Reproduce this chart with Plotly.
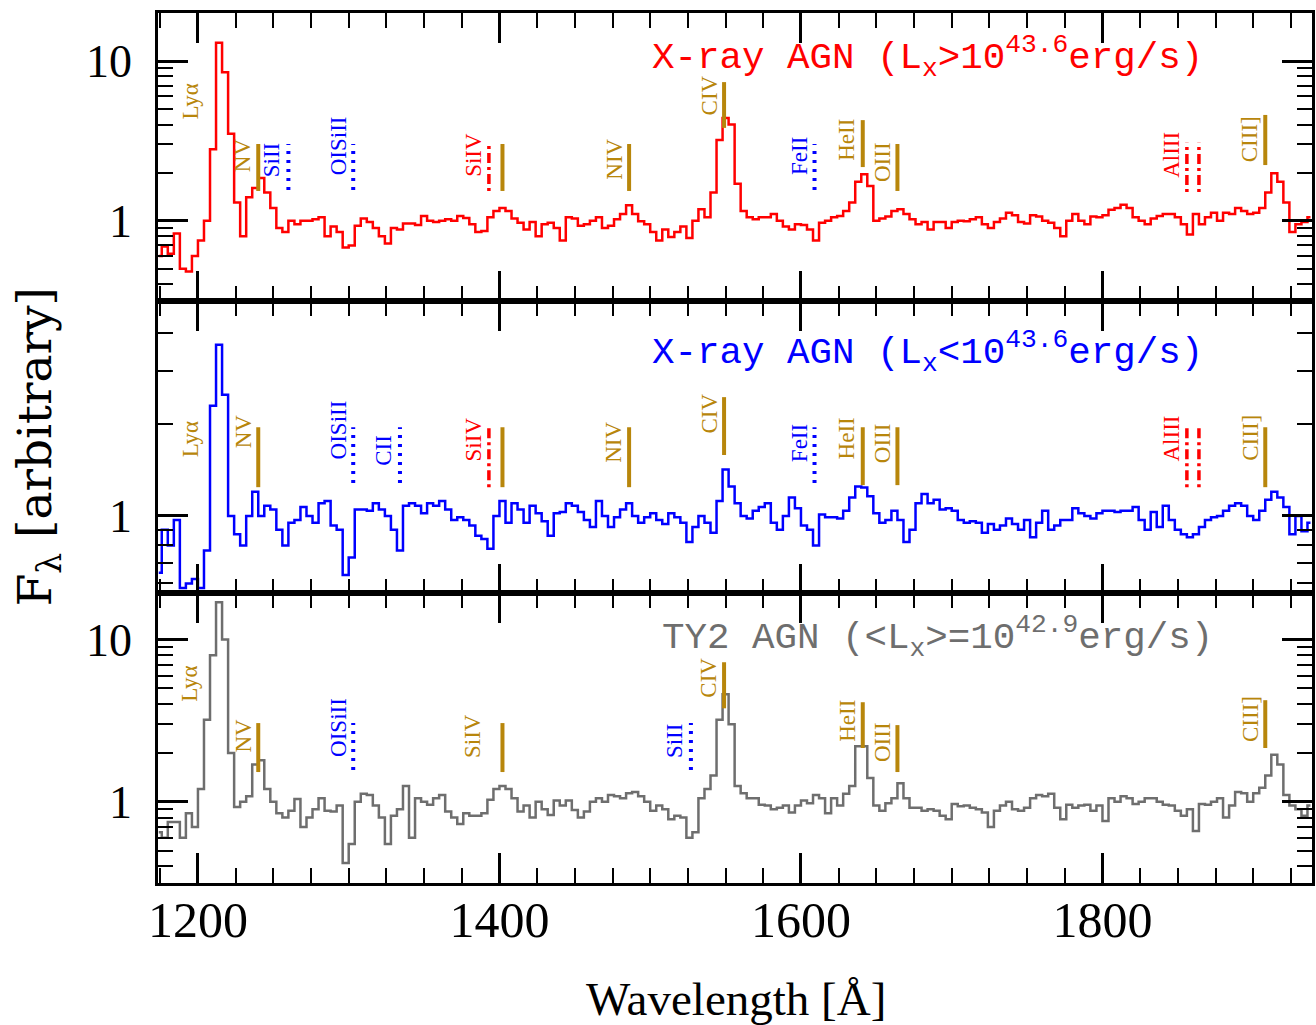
import plotly.graph_objects as go

# ---------------- data ----------------
# wavelength grids (Angstrom), 4 A bins, three segments
wave_a = list(range(1174, 1434, 4))   # 1174 .. 1430
wave_b = list(range(1434, 1690, 4))   # 1434 .. 1686
wave_c = list(range(1690, 1942, 4))   # 1690 .. 1938

# X-ray AGN, Lx > 10^43.6 (red)
flux_hi_a = [0.60, 0.69, 0.62, 0.83, 0.50, 0.48, 0.60, 0.75, 1.00, 2.8,
             13.0, 8.5, 3.5, 1.3, 0.80, 1.40, 1.60, 1.85, 1.50, 1.20,
             0.90, 0.85, 1.00, 0.95, 1.00, 1.00, 1.02, 1.05, 0.80, 0.92,
             0.85, 0.68, 0.70, 0.93, 1.03, 0.98, 0.90, 0.80, 0.72, 0.90,
             0.88, 0.96, 0.96, 0.94, 1.07, 1.00, 0.98, 1.00, 1.02, 1.00,
             1.07, 1.04, 0.95, 0.85, 0.86, 1.05, 1.15, 1.20, 1.15, 1.03,
             0.97, 0.88, 0.98, 0.80, 0.95]
flux_hi_b = [0.97, 0.90, 0.75, 1.05, 1.03, 0.93, 0.95, 1.00, 1.05, 0.90,
             0.93, 1.02, 1.10, 1.25, 1.10, 0.99, 0.95, 0.85, 0.75, 0.88,
             0.79, 0.85, 0.92, 0.78, 1.00, 1.18, 1.05, 1.50, 3.20, 4.40,
             4.00, 1.70, 1.15, 1.05, 1.02, 1.05, 1.05, 1.10, 1.00, 0.92,
             0.88, 0.95, 0.94, 0.88, 0.75, 0.97, 1.00, 1.05, 1.07, 1.15,
             1.30, 1.75, 1.95, 1.65, 1.00, 1.03, 1.06, 1.15, 1.18, 1.10,
             1.02, 0.95, 0.98, 0.88]
flux_hi_c = [0.98, 0.98, 0.90, 0.98, 1.00, 0.99, 1.02, 1.05, 0.95, 0.90,
             0.98, 1.03, 1.12, 1.08, 0.98, 0.96, 1.08, 1.06, 1.00, 0.97,
             0.90, 0.80, 1.00, 1.10, 1.00, 0.95, 1.06, 1.05, 1.08, 1.17,
             1.20, 1.26, 1.20, 1.05, 1.00, 0.95, 1.03, 1.07, 1.10, 1.10,
             1.05, 0.95, 0.82, 1.10, 0.95, 1.05, 1.12, 1.00, 1.12, 1.10,
             1.20, 1.15, 1.10, 1.12, 1.20, 1.50, 1.98, 1.75, 1.30, 0.85,
             0.95, 0.98, 1.05]

# X-ray AGN, Lx < 10^43.6 (blue)
flux_lo_a = [0.65, 0.90, 0.80, 0.97, 0.58, 0.60, 0.62, 0.58, 0.77, 2.30,
             3.65, 2.50, 1.00, 0.87, 0.80, 1.00, 1.20, 1.00, 1.08, 1.05,
             0.90, 0.80, 0.95, 0.97, 1.07, 1.00, 0.95, 1.10, 1.12, 0.93,
             0.90, 0.64, 0.73, 1.05, 1.05, 1.04, 1.10, 1.05, 1.00, 0.90,
             0.77, 1.08, 1.10, 1.08, 1.02, 1.10, 1.08, 1.12, 1.05, 0.97,
             0.99, 0.97, 0.93, 0.86, 0.84, 0.78, 1.00, 1.12, 0.95, 1.10,
             1.05, 0.95, 1.08, 1.02, 0.96]
flux_lo_b = [0.86, 1.02, 1.03, 1.10, 1.08, 1.03, 0.97, 0.92, 1.12, 1.00,
             0.92, 0.99, 1.05, 1.10, 1.00, 0.95, 0.99, 1.02, 0.97, 0.94,
             1.02, 0.99, 0.95, 0.82, 0.92, 1.00, 0.95, 0.88, 1.12, 1.42,
             1.25, 1.10, 1.00, 0.98, 1.04, 1.07, 1.10, 0.95, 0.90, 1.00,
             1.15, 1.06, 0.93, 0.90, 0.80, 1.01, 0.99, 0.99, 0.98, 1.04,
             1.15, 1.25, 1.24, 1.16, 1.02, 0.95, 0.97, 1.04, 0.97, 0.82,
             0.90, 1.10, 1.18, 1.10]
flux_lo_c = [1.13, 1.05, 1.06, 1.04, 0.97, 0.95, 0.96, 0.95, 0.88, 0.94,
             0.90, 0.93, 0.98, 0.94, 0.90, 0.97, 0.85, 0.95, 1.04, 0.90,
             0.93, 0.97, 0.97, 1.06, 1.02, 1.00, 0.98, 1.02, 1.04, 1.04,
             1.03, 1.04, 1.04, 1.07, 0.97, 0.90, 1.03, 0.92, 1.08, 0.97,
             0.90, 0.87, 0.85, 0.87, 0.92, 0.97, 0.99, 1.00, 1.04, 1.08,
             1.10, 1.08, 1.00, 0.97, 1.04, 1.13, 1.20, 1.15, 1.07, 0.87,
             1.00, 0.89, 0.95]

# Type-2 AGN (grey)
flux_ty2_a = [0.65, 0.60, 0.75, 0.75, 0.60, 0.85, 0.70, 1.20, 3.20, 8.00,
              17.0, 10.0, 2.00, 0.93, 1.00, 1.08, 1.70, 1.80, 1.20, 1.00,
              0.85, 0.80, 0.88, 1.04, 0.70, 0.80, 0.90, 1.05, 0.88, 0.87,
              0.95, 0.42, 0.55, 1.00, 1.12, 1.10, 0.95, 0.80, 0.55, 0.82,
              0.90, 1.25, 0.60, 1.05, 1.00, 0.96, 1.05, 1.10, 0.87, 0.80,
              0.73, 0.85, 0.82, 0.82, 0.85, 1.03, 1.20, 1.25, 1.20, 1.05,
              0.87, 0.95, 0.80, 1.00, 0.90]
flux_ty2_b = [0.83, 1.02, 0.95, 1.02, 0.89, 0.80, 0.87, 1.00, 1.05, 1.00,
              1.10, 1.08, 1.05, 1.13, 1.15, 1.08, 1.00, 0.88, 0.95, 0.90,
              0.78, 0.82, 0.80, 0.60, 0.65, 1.05, 1.20, 1.45, 3.20, 4.60,
              3.00, 1.25, 1.13, 1.05, 1.05, 0.96, 0.95, 0.90, 0.92, 0.95,
              0.86, 0.95, 1.02, 0.98, 1.10, 1.05, 0.85, 1.05, 0.95, 1.12,
              1.25, 2.20, 2.20, 1.40, 0.95, 0.88, 0.98, 1.05, 1.30, 1.05,
              0.92, 0.92, 0.88, 0.90]
flux_ty2_c = [0.88, 0.82, 0.78, 0.97, 0.94, 0.95, 0.92, 0.90, 0.86, 0.70,
              0.88, 0.95, 1.00, 0.90, 0.88, 0.92, 1.05, 1.10, 1.08, 1.12,
              0.92, 0.78, 0.96, 0.92, 0.95, 0.96, 0.88, 0.95, 0.76, 1.05,
              1.00, 1.08, 1.05, 0.97, 1.00, 1.05, 1.05, 1.00, 0.96, 0.95,
              0.88, 0.82, 0.90, 0.66, 0.97, 0.96, 1.00, 1.05, 0.80, 0.95,
              1.15, 1.13, 1.00, 1.13, 1.22, 1.45, 1.95, 1.70, 1.10, 0.95,
              0.90, 0.82, 0.95]

panel_titles = [
    "X-ray AGN (L<sub>x</sub>&gt;10<sup>43.6</sup>erg/s)",
    "X-ray AGN (L<sub>x</sub>&lt;10<sup>43.6</sup>erg/s)",
    "TY2 AGN (&lt;L<sub>x</sub>&gt;=10<sup>42.9</sup>erg/s)",
]
x_tick_vals = [1200, 1400, 1600, 1800]
x_tick_text = ["1200", "1400", "1600", "1800"]

# emission / absorption line identifications (label, wavelength of marks)
lines_top = [("Ly\u03b1", []), ("NV", [1240]), ("SiII", [1260]), ("OISiII", [1303]),
             ("SiIV", [1393, 1402]), ("NIV", [1486]), ("CIV", [1549]), ("FeII", [1609]),
             ("HeII", [1641]), ("OIII", [1664]), ("AlIII", [1856, 1864]), ("CIII]", [1908])]
lines_mid = [("Ly\u03b1", []), ("NV", [1240]), ("OISiII", [1303]), ("CII", [1334]),
             ("SiIV", [1393, 1402]), ("NIV", [1486]), ("CIV", [1549]), ("FeII", [1609]),
             ("HeII", [1641]), ("OIII", [1664]), ("AlIII", [1856, 1864]), ("CIII]", [1908])]
lines_bot = [("Ly\u03b1", []), ("NV", [1240]), ("OISiII", [1303]), ("SiIV", [1402]),
             ("SiII", [1527]), ("CIV", [1549]), ("HeII", [1641]), ("OIII", [1664]),
             ("CIII]", [1908])]

# ---------------- assembly ----------------
for nm, arrs in [("hi", (flux_hi_a, flux_hi_b, flux_hi_c)),
                 ("lo", (flux_lo_a, flux_lo_b, flux_lo_c)),
                 ("ty2", (flux_ty2_a, flux_ty2_b, flux_ty2_c))]:
    for w, f in zip((wave_a, wave_b, wave_c), arrs):
        assert len(w) == len(f), (nm, len(w), len(f))

wave = wave_a + wave_b + wave_c
flux_hi = flux_hi_a + flux_hi_b + flux_hi_c
flux_lo = flux_lo_a + flux_lo_b + flux_lo_c
flux_ty2 = flux_ty2_a + flux_ty2_b + flux_ty2_c

GOLD = "#B8860B"
BLUE = "#0000FF"
RED = "#FF0000"
GREY = "#6E6E6E"

fig = go.Figure()
fig.add_trace(go.Scatter(x=wave, y=flux_hi, mode="lines", line=dict(color=RED, width=2.5, shape="hvh"),
                         xaxis="x", yaxis="y", hoverinfo="skip"))
fig.add_trace(go.Scatter(x=wave, y=flux_lo, mode="lines", line=dict(color=BLUE, width=2.5, shape="hvh"),
                         xaxis="x2", yaxis="y2", hoverinfo="skip"))
fig.add_trace(go.Scatter(x=wave, y=flux_ty2, mode="lines", line=dict(color=GREY, width=2.5, shape="hvh"),
                         xaxis="x3", yaxis="y3", hoverinfo="skip"))

XR = [1173.5, 1939]
common_x = dict(range=XR, showline=True, linewidth=2.5, linecolor="black", mirror="ticks",
                ticks="inside", ticklen=30, tickwidth=2.5, tickcolor="black",
                tickmode="array", tickvals=x_tick_vals, ticktext=x_tick_text,
                minor=dict(tickmode="linear", dtick=25, tick0=1200, ticks="inside", ticklen=15,
                           tickwidth=2, tickcolor="black"),
                showgrid=False, zeroline=False)
common_y = dict(type="log", showline=True, linewidth=2.5, linecolor="black", mirror="ticks",
                ticks="inside", ticklen=30, tickwidth=2.5, tickcolor="black",
                showgrid=False, zeroline=False, ticklabelstandoff=14,
                tickfont=dict(family="Liberation Serif", size=46, color="black"))
minor_y = [0.3, 0.4, 0.5, 0.6, 0.7, 0.8, 0.9, 2, 3, 4, 5, 6, 7, 8, 9, 20]

fig.update_layout(
    width=1316, height=1025, margin=dict(l=158, r=1, t=13, b=142),
    paper_bgcolor="white", plot_bgcolor="white", showlegend=False,
    xaxis=dict(common_x, anchor="y", showticklabels=False),
    xaxis2=dict(common_x, anchor="y2", matches="x", showticklabels=False),
    xaxis3=dict(common_x, anchor="y3", matches="x", showticklabels=True, ticklabelstandoff=-9,
                tickfont=dict(family="Liberation Serif", size=50, color="black")),
    yaxis=dict(common_y, domain=[0.669, 1.0], range=[-0.503, 1.3006],
               tickvals=[1, 10], ticktext=["1", "10"], anchor="x",
               minor=dict(tickmode="array", tickvals=minor_y, ticks="inside", ticklen=15,
                          tickwidth=2, tickcolor="black")),
    yaxis2=dict(common_y, domain=[0.333, 0.669], range=[-0.2543, 0.706],
                tickvals=[1], ticktext=["1"], anchor="x2",
                minor=dict(tickmode="array", tickvals=minor_y, ticks="inside", ticklen=15,
                           tickwidth=2, tickcolor="black")),
    yaxis3=dict(common_y, domain=[0.0, 0.333], range=[-0.5006, 1.285],
                tickvals=[1, 10], ticktext=["1", "10"], anchor="x3",
                minor=dict(tickmode="array", tickvals=minor_y, ticks="inside", ticklen=15,
                           tickwidth=2, tickcolor="black")),
)

annotations = []
shapes = []

# panel titles
title_colors = [RED, BLUE, GREY]
title_pos = [(0.9075, "y domain", 0.847), (0.9075, "y2 domain", 0.825), (0.916, "y3 domain", 0.848)]
for txt, col, (tx, yr, ty) in zip(panel_titles, title_colors, title_pos):
    annotations.append(dict(text=txt, xref="paper", x=tx, xanchor="right", yref=yr, y=ty,
                            yanchor="middle", showarrow=False,
                            font=dict(family="Liberation Mono", size=37.5, color=col)))

# axis titles
annotations.append(dict(text="F<sub>\u03bb</sub> [arbitrary]", xref="paper", yref="paper",
                        x=(38 - 158) / 1157, y=(883 - 447) / 870, textangle=-90,
                        xanchor="center", yanchor="middle", showarrow=False,
                        font=dict(family="DejaVu Serif", size=47, color="black")))
annotations.append(dict(text="Wavelength [\u00c5]", xref="paper", yref="paper",
                        x=(738 - 158) / 1157, y=(883 - 999) / 870,
                        xanchor="center", yanchor="middle", showarrow=False,
                        font=dict(family="Liberation Serif", size=47, color="black")))

# layout of line marks: label -> (label colour, label y, label xshift, [(mark style, y0, y1)])
STY = {"gold": dict(color=GOLD, width=4, dash="solid"),
       "blue": dict(color=BLUE, width=4, dash="3px,6px"),
       "red": dict(color=RED, width=3.5, dash="3px,4px,10px,4px")}

lay_top = {
    "Ly\u03b1": (GOLD, 0.693, -32, []),
    "NV": (GOLD, 0.507, -15, [("gold", 0.382, 0.545)]),
    "SiII": (BLUE, 0.49, -17, [("blue", 0.385, 0.545)]),
    "OISiII": (BLUE, 0.538, -15, [("blue", 0.385, 0.545)]),
    "SiIV": (RED, 0.507, -15, [("red", 0.382, 0.545), ("gold", 0.382, 0.545)]),
    "NIV": (GOLD, 0.491, -15, [("gold", 0.382, 0.545)]),
    "CIV": (GOLD, 0.714, -15, [("gold", 0.601, 0.760)]),
    "FeII": (BLUE, 0.502, -15, [("blue", 0.385, 0.545)]),
    "HeII": (GOLD, 0.559, -16, [("gold", 0.465, 0.628)]),
    "OIII": (GOLD, 0.484, -15, [("gold", 0.382, 0.545)]),
    "AlIII": (RED, 0.507, -15, [("red", 0.378, 0.549), ("red", 0.378, 0.549)]),
    "CIII]": (GOLD, 0.5625, -15, [("gold", 0.472, 0.646)]),
}
lay_mid = {
    "Ly\u03b1": (GOLD, 0.527, -32, []),
    "NV": (GOLD, 0.555, -15, [("gold", 0.363, 0.568)]),
    "OISiII": (BLUE, 0.558, -15, [("blue", 0.377, 0.568)]),
    "CII": (BLUE, 0.491, -16, [("blue", 0.377, 0.568)]),
    "SiIV": (RED, 0.526, -15, [("red", 0.363, 0.568), ("gold", 0.363, 0.568)]),
    "NIV": (GOLD, 0.515, -15, [("gold", 0.363, 0.568)]),
    "CIV": (GOLD, 0.615, -15, [("gold", 0.473, 0.671)]),
    "FeII": (BLUE, 0.512, -15, [("blue", 0.377, 0.568)]),
    "HeII": (GOLD, 0.529, -16, [("gold", 0.37, 0.568)]),
    "OIII": (GOLD, 0.515, -15, [("gold", 0.37, 0.568)]),
    "AlIII": (RED, 0.529, -15, [("red", 0.363, 0.568), ("red", 0.363, 0.568)]),
    "CIII]": (GOLD, 0.533, -15, [("gold", 0.363, 0.568)]),
}
lay_bot = {
    "Ly\u03b1": (GOLD, 0.688, -32, []),
    "NV": (GOLD, 0.51, -15, [("gold", 0.383, 0.552)]),
    "OISiII": (BLUE, 0.536, -15, [("blue", 0.39, 0.552)]),
    "SiIV": (GOLD, 0.509, -30, [("gold", 0.383, 0.552)]),
    "SiII": (BLUE, 0.493, -17, [("blue", 0.39, 0.552)]),
    "CIV": (GOLD, 0.709, -15, [("gold", 0.603, 0.762)]),
    "HeII": (GOLD, 0.559, -16, [("gold", 0.466, 0.624)]),
    "OIII": (GOLD, 0.488, -15, [("gold", 0.383, 0.545)]),
    "CIII]": (GOLD, 0.567, -15, [("gold", 0.466, 0.631)]),
}

for lines, lay, xr, yr in [(lines_top, lay_top, "x", "y domain"),
                           (lines_mid, lay_mid, "x2", "y2 domain"),
                           (lines_bot, lay_bot, "x3", "y3 domain")]:
    for label, waves in lines:
        col, ly, xs, marks = lay[label]
        lx = waves[0] if waves else 1216
        annotations.append(dict(text=label, xref=xr, x=lx, xshift=xs, yref=yr, y=ly,
                                textangle=-90, xanchor="center", yanchor="middle",
                                showarrow=False,
                                font=dict(family="Liberation Serif", size=23, color=col)))
        for wl, (sty, y0, y1) in zip(waves, marks):
            shapes.append(dict(type="line", xref=xr, yref=yr, x0=wl, x1=wl, y0=y0, y1=y1,
                               line=STY[sty], layer="above"))

fig.update_layout(annotations=annotations, shapes=shapes)
fig.write_html("out.html")
